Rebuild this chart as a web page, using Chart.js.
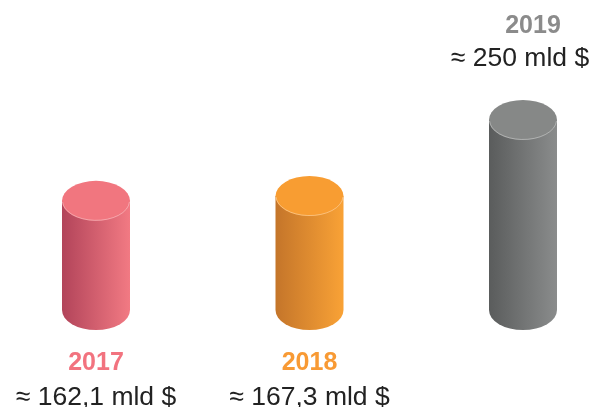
<!DOCTYPE html>
<html>
<head>
<meta charset="utf-8">
<script src="https://cdn.jsdelivr.net/npm/chart.js@4"></script>
<style>
    html, body { margin: 0; padding: 0; background: #fff; }
    #wrap { width: 593px; height: 407px; }
</style>
</head>
<body>
<div id="wrap"><canvas id="revenueChart" width="593" height="407"></canvas></div>
<script>
// Data
const years = ['2017', '2018', '2019'];
const revenue = [162.1, 167.3, 250];   // mld $
const unit = 'mld $';

// Colours per year: [side left, side right, top, label]
const palette = [
    ['#b2445a', '#f27a83', '#f1767f', '#f2737f'],
    ['#c4752a', '#f9a236', '#f89d32', '#f89a34'],
    ['#5a5c5c', '#8a8c8c', '#868887', '#8b8b8b']
];

const FONT = '"Liberation Sans", Arial, Helvetica, sans-serif';

// Draw each bar as a cylinder and put the year / value text near it
const cylinderPlugin = {
    id: 'cylinders',
    afterDatasetsDraw(chart) {
        const ctx = chart.ctx;
        const meta = chart.getDatasetMeta(0);
        const maxVal = Math.max(...revenue);

        meta.data.forEach((bar, i) => {
            const cx = bar.x;
            const rx = bar.width / 2;
            const ry = 20;
            const top = bar.y + ry;       // centre of top ellipse
            const bottom = bar.base - ry; // centre of bottom ellipse
            const c = palette[i];

            ctx.save();
            // side
            const grad = ctx.createLinearGradient(cx - rx, 0, cx + rx, 0);
            grad.addColorStop(0, c[0]);
            grad.addColorStop(1, c[1]);
            ctx.beginPath();
            ctx.moveTo(cx - rx, top);
            ctx.lineTo(cx - rx, bottom);
            ctx.ellipse(cx, bottom, rx, ry, 0, Math.PI, 0, true);
            ctx.lineTo(cx + rx, top);
            ctx.closePath();
            ctx.fillStyle = grad;
            ctx.fill();

            // top
            ctx.beginPath();
            ctx.ellipse(cx, top, rx, ry, 0, 0, Math.PI * 2);
            ctx.fillStyle = c[2];
            ctx.fill();
            ctx.beginPath();
            ctx.ellipse(cx, top, rx - 0.5, ry - 0.5, 0, 0.05, Math.PI - 0.05);
            ctx.strokeStyle = 'rgba(255,255,255,0.35)';
            ctx.lineWidth = 1;
            ctx.stroke();

            // labels
            const above = revenue[i] === maxVal;
            const yearY = above ? bar.y - 67 : bar.base + 40;
            const valY = above ? bar.y - 34 : bar.base + 75;
            ctx.textAlign = 'center';
            ctx.textBaseline = 'alphabetic';
            ctx.font = 'bold 25px ' + FONT;
            ctx.fillStyle = c[3];
            ctx.fillText(years[i], cx + (above ? 10 : 0), yearY);
            ctx.font = '26.5px ' + FONT;
            ctx.fillStyle = '#222222';
            ctx.fillText('\u2248 ' + String(revenue[i]).replace('.', ',') + ' ' + unit, cx - (above ? 3 : 0), valY);
            ctx.restore();
        });
    }
};

const ctx = document.getElementById('revenueChart').getContext('2d');
const revenueChart = new Chart(ctx, {
    type: 'bar',
    data: {
        labels: years,
        datasets: [{
            label: 'Revenue',
            data: revenue,
            backgroundColor: 'rgba(0,0,0,0)',
            borderWidth: 0,
            barThickness: 68
        }]
    },
    options: {
        responsive: false,
        animation: false,
        layout: {
            padding: { top: 100, bottom: 77, left: 96, right: 70 }
        },
        scales: {
            x: { display: false, offset: false },
            y: { display: false, min: 0, max: 250 }
        },
        plugins: {
            legend: { display: false },
            tooltip: { enabled: false }
        }
    },
    plugins: [cylinderPlugin]
});
</script>
</body>
</html>
